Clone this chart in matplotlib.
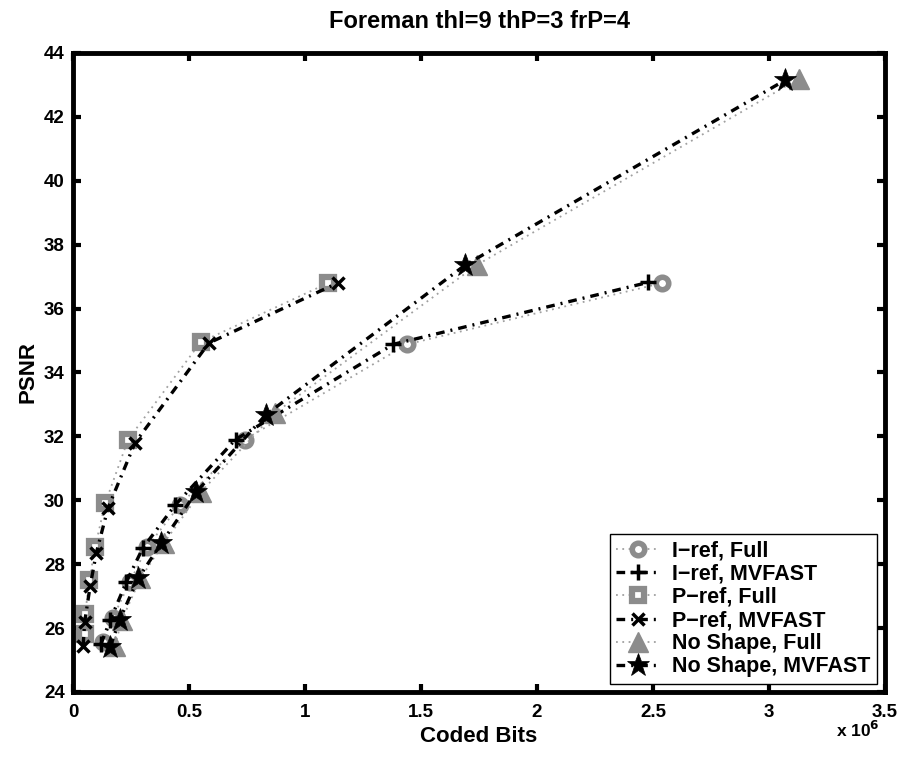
import numpy as np
import matplotlib.pyplot as plt

plt.rcParams['font.family'] = ['Liberation Sans', 'DejaVu Sans']
plt.rcParams['font.weight'] = 'bold'

# coded bits (x 10^6) and PSNR for each configuration
iref_full_x = [0.13, 0.17, 0.245, 0.32, 0.46, 0.74, 1.44, 2.54]
iref_full_y = [25.55, 26.3, 27.45, 28.55, 29.85, 31.9, 34.88, 36.8]
iref_fast_x = [0.12, 0.16, 0.23, 0.30, 0.44, 0.70, 1.38, 2.48]
iref_fast_y = [25.5, 26.25, 27.45, 28.5, 29.85, 31.9, 34.88, 36.82]
pref_full_x = [0.05, 0.052, 0.07, 0.095, 0.138, 0.237, 0.55, 1.10]
pref_full_y = [25.8, 26.45, 27.5, 28.55, 29.9, 31.9, 34.95, 36.8]
pref_fast_x = [0.043, 0.05, 0.073, 0.10, 0.15, 0.267, 0.585, 1.14]
pref_fast_y = [25.45, 26.2, 27.3, 28.35, 29.75, 31.8, 34.92, 36.8]
nosh_full_x = [0.18, 0.21, 0.29, 0.39, 0.55, 0.87, 1.74, 3.13]
nosh_full_y = [25.45, 26.25, 27.55, 28.65, 30.25, 32.73, 37.36, 43.2]
nosh_fast_x = [0.16, 0.20, 0.28, 0.38, 0.53, 0.83, 1.69, 3.07]
nosh_fast_y = [25.41, 26.25, 27.55, 28.65, 30.25, 32.67, 37.36, 43.15]

labels = ['I\u2212ref, Full', 'I\u2212ref, MVFAST', 'P\u2212ref, Full',
          'P\u2212ref, MVFAST', 'No Shape, Full', 'No Shape, MVFAST']

xticks = [0, 0.5, 1, 1.5, 2, 2.5, 3, 3.5]
yticks = [24, 26, 28, 30, 32, 34, 36, 38, 40, 42, 44]

gray = '#8c8c8c'
fig = plt.figure(figsize=(9.03, 7.57), dpi=100)
ax = fig.add_axes([0.081, 0.086, 0.899, 0.844])

full_line = dict(color='#a0a0a0', ls=(0, (1, 2.5)), lw=1.3)
fast_line = dict(color='k', ls=(0, (2.6, 1.8, 0.6, 1.8)), lw=2.4)

ax.plot(iref_full_x, iref_full_y, marker='o', ms=9, mfc='white', mec=gray, mew=4,
        label=labels[0], **full_line)
ax.plot(iref_fast_x, iref_fast_y, marker='+', ms=11, mec='k', mew=2.5,
        label=labels[1], **fast_line)
ax.plot(pref_full_x, pref_full_y, marker='s', ms=8, mfc='white', mec=gray, mew=4.5,
        label=labels[2], **full_line)
ax.plot(pref_fast_x, pref_fast_y, marker='x', ms=8, mec='k', mew=2.5,
        label=labels[3], **fast_line)
ax.plot(nosh_full_x, nosh_full_y, marker='^', ms=14, mfc=gray, mec=gray, mew=1,
        label=labels[4], **full_line)
ax.plot(nosh_fast_x, nosh_fast_y, marker='*', ms=17, mfc='k', mec='k', mew=0.5,
        label=labels[5], **fast_line)

ax.set_xlim(0, 3.5)
ax.set_ylim(24, 44)
ax.set_xticks(xticks)
ax.set_yticks(yticks)
ax.set_xticklabels([f'{t:g}' for t in xticks], fontweight='bold')
ax.set_yticklabels([str(t) for t in yticks], fontweight='bold')
ax.tick_params(direction='in', length=6, width=3, labelsize=13.5,
               top=True, right=True)
ax.tick_params(axis='x', pad=9)
ax.tick_params(axis='y', pad=6)
for s in ax.spines.values():
    s.set_linewidth(3.5)

ax.set_xlabel('Coded Bits', fontsize=16, fontweight='bold', labelpad=3)
ax.set_ylabel('PSNR', fontsize=16, fontweight='bold', labelpad=4)
ax.set_title('Foreman thI=9 thP=3 frP=4', fontsize=17, fontweight='bold', pad=18)
fig.text(0.950, 0.036, 'x 10$^{\\mathbf{6}}$', fontsize=12.5, fontweight='bold',
         ha='center', va='center')

leg = ax.legend(loc='lower right', fontsize=15.5, frameon=True, fancybox=False,
                edgecolor='k', framealpha=1, handlelength=2.0, borderpad=0.3,
                labelspacing=0.1, handletextpad=0.6, borderaxespad=0,
                bbox_to_anchor=(0.990, 0.0125))
leg.get_frame().set_linewidth(1)

fig.savefig('out.png', dpi=100)
